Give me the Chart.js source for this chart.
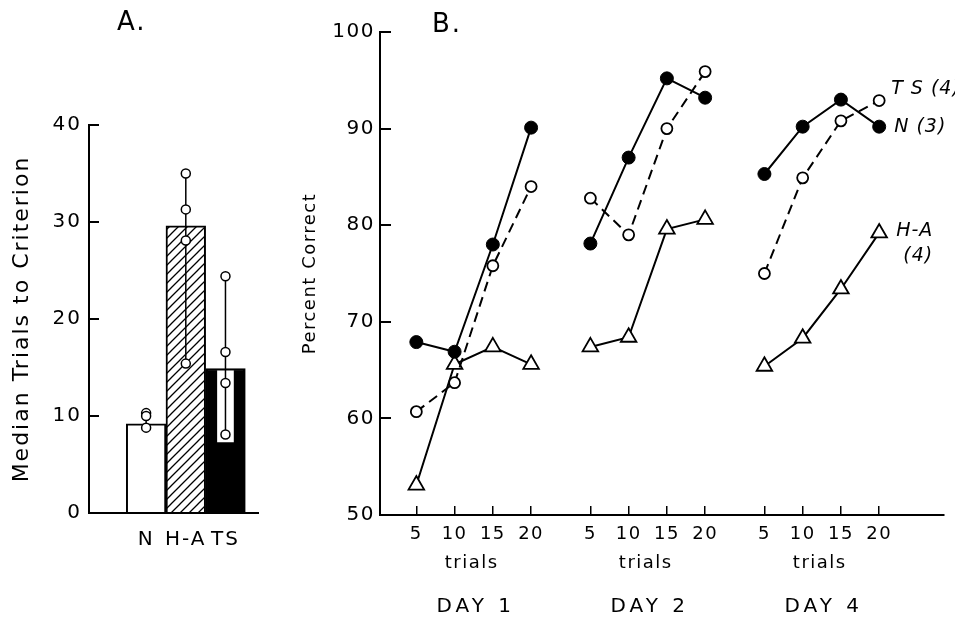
<!DOCTYPE html>
<html>
<head>
<meta charset="utf-8">
<script src="https://cdn.jsdelivr.net/npm/chart.js@4.4.1/dist/chart.umd.min.js"></script>
<style>
  html, body { margin: 0; padding: 0; background: #fff; }
  #marco { position: relative; width: 955px; height: 618px; overflow: hidden; }
  canvas { position: absolute; top: 0; }
  #panelA { left: 0; }
  #panelB { left: 280px; }
</style>
</head>
<body>
<div id="marco">
  <canvas id="panelA" width="280" height="618"></canvas>
  <canvas id="panelB" width="675" height="618"></canvas>
</div>
<script>
// A. trials to criterion
const grupos = ['N', 'H-A', 'TS']
const medianas = [9.2, 29.6, 14.9]
const individuales = [
  [10.3, 10.0, 8.8],
  [35.0, 31.3, 28.1, 15.4],
  [24.4, 16.6, 13.4, 8.1]
]
const recuadroTS = [7.3, 14.7]

// B. percent correct, one row per day
const ensayos = [5, 10, 15, 20]
const dias = ['DAY 1', 'DAY 2', 'DAY 4']
const serieN = [[67.9, 66.9, 78.0, 90.1], [78.1, 87.0, 95.2, 93.2], [85.3, 90.2, 93.0, 90.2]]
const serieTS = [[60.7, 63.7, 75.8, 84.0], [82.8, 79.0, 90.0, 95.9], [75.0, 84.9, 90.8, 92.9]]
const serieHA = [[53.1, 65.6, 67.4, 65.6], [67.4, 68.4, 79.6, 80.6], [65.4, 68.3, 73.4, 79.2]]
//
Chart.defaults.font.family = '"DejaVu Sans", sans-serif'
Chart.defaults.color = '#000'
Chart.defaults.animation = false

const gapDia = 0.55
function posicion (d, t) {
  return d * (ensayos.length + gapDia) + t
}

function puntos (valores) {
  let salida = []
  valores.forEach((dia, d) => {
    if (d > 0) salida.push({ x: posicion(d, 0) - 0.75, y: null })
    dia.forEach((v, t) => salida.push({ x: posicion(d, t), y: v }))
  })
  return salida
}

function rayado () {
  let c = document.createElement('canvas')
  c.width = 9
  c.height = 9
  let g = c.getContext('2d')
  g.fillStyle = '#fff'
  g.fillRect(0, 0, 9, 9)
  g.strokeStyle = '#000'
  g.lineWidth = 1.3
  g.beginPath()
  g.moveTo(0, 9); g.lineTo(9, 0)
  g.moveTo(-1, 1); g.lineTo(1, -1)
  g.moveTo(8, 10); g.lineTo(10, 8)
  g.stroke()
  return g.createPattern(c, 'repeat')
}

function espaciado (px) {
  return {
    id: 'espaciado',
    beforeDraw (chart) {
      chart.ctx.letterSpacing = px
    }
  }
}

const rotulosA = {
  id: 'rotulosA',
  afterDraw (chart) {
    let ctx = chart.ctx
    ctx.save()
    ctx.fillStyle = '#000'
    ctx.font = '26px "DejaVu Sans"'
    ctx.letterSpacing = '2px'
    ctx.textAlign = 'left'
    ctx.textBaseline = 'alphabetic'
    ctx.fillText('A.', chart.chartArea.left + 28, 30)
    ctx.restore()
  }
}

const rotulosB = {
  id: 'rotulosB',
  afterDraw (chart) {
    let ctx = chart.ctx
    let { left, bottom } = chart.chartArea
    let escala = chart.scales.x
    ctx.save()
    ctx.fillStyle = '#000'
    ctx.textAlign = 'left'
    ctx.textBaseline = 'alphabetic'
    ctx.font = '26px "DejaVu Sans"'
    ctx.letterSpacing = '2px'
    ctx.fillText('B.', left + 52, 32)
    //
    ctx.textAlign = 'center'
    ctx.textBaseline = 'middle'
    dias.forEach((dia, d) => {
      let medio = escala.getPixelForValue(posicion(d, (ensayos.length - 1) / 2))
      ctx.font = '18px "DejaVu Sans"'
      ctx.letterSpacing = '1.5px'
      ctx.fillText('trials', medio - 2, bottom + 48)
      ctx.font = '20px "DejaVu Sans"'
      ctx.letterSpacing = '4px'
      ctx.fillText(dia, medio + 2, bottom + 92)
    })
    // series names next to the last day
    ctx.textAlign = 'left'
    ctx.font = 'italic 19px "DejaVu Sans"'
    ctx.letterSpacing = '1px'
    let nombres = [
      { serie: 0, textos: ['N (3)'], dx: 15, dy: 0 },
      { serie: 1, textos: ['T S (4)'], dx: 12, dy: -12 },
      { serie: 2, textos: ['H-A', ' (4)'], dx: 17, dy: -2 }
    ]
    nombres.forEach(n => {
      let meta = chart.getDatasetMeta(n.serie)
      let ultimo = meta.data[meta.data.length - 1]
      n.textos.forEach((t, i) => ctx.fillText(t, ultimo.x + n.dx, ultimo.y + n.dy + i * 25))
    })
    ctx.restore()
  }
}

const ejeNegro = {
  border: { display: true, color: '#000', width: 2 },
  grid: { drawOnChartArea: false, color: '#000', lineWidth: 2 }
}

new Chart(document.getElementById('panelA'), {
  type: 'bar',
  data: {
    datasets: [
      ...individuales.map((valores, i) => ({
        type: 'line',
        data: valores.map(v => ({ x: i, y: v })),
        order: 0,
        borderColor: '#000',
        borderWidth: 1.5,
        pointRadius: 4.5,
        pointBackgroundColor: '#fff',
        pointBorderColor: '#000',
        pointBorderWidth: 1.5
      })),
      {
        data: [{ x: 2, y: recuadroTS }],
        order: 1,
        grouped: false,
        barPercentage: 0.42,
        categoryPercentage: 1,
        backgroundColor: '#fff',
        borderWidth: 0
      },
      {
        data: medianas.map((v, i) => ({ x: i, y: v })),
        order: 2,
        grouped: false,
        barPercentage: 1,
        categoryPercentage: 1,
        backgroundColor: ['#fff', rayado(), '#000'],
        borderColor: '#000',
        borderWidth: 2
      }
    ]
  },
  options: {
    responsive: false,
    layout: { padding: { top: 125, right: 22, left: 0, bottom: 0 } },
    plugins: { legend: { display: false }, tooltip: { enabled: false } },
    scales: {
      x: {
        type: 'linear',
        min: -1.44,
        max: 2.82,
        offset: false,
        border: { display: true, color: '#000', width: 2 },
        grid: { display: false, offset: false },
        afterBuildTicks: escala => { escala.ticks = grupos.map((g, i) => ({ value: i })) },
        afterFit: escala => { escala.height = 105 },
        ticks: {
          padding: 7,
          maxRotation: 0,
          autoSkip: false,
          font: { size: 20 },
          callback: (valor, i) => grupos[i]
        }
      },
      y: {
        min: 0,
        max: 40,
        ...ejeNegro,
        grid: { ...ejeNegro.grid, tickLength: -10 },
        afterFit: escala => { escala.width = 89 },
        ticks: { stepSize: 10, padding: 17, font: { size: 20 } },
        title: {
          display: true,
          text: 'Median Trials to Criterion',
          font: { size: 22 },
          padding: { top: 9, bottom: 0 }
        }
      }
    }
  },
  plugins: [espaciado('2px'), rotulosA]
})

const posiciones = dias.flatMap((d, i) => ensayos.map((e, t) => posicion(i, t)))

new Chart(document.getElementById('panelB'), {
  type: 'line',
  data: {
    datasets: [
      {
        label: 'N (3)',
        data: puntos(serieN),
        borderColor: '#000',
        borderWidth: 2,
        pointStyle: 'circle',
        pointRadius: 6.5,
        pointBackgroundColor: '#000',
        pointBorderColor: '#000',
        pointBorderWidth: 1
      },
      {
        label: 'TS (4)',
        data: puntos(serieTS),
        borderColor: '#000',
        borderWidth: 2,
        borderDash: [10, 6],
        pointStyle: 'circle',
        pointRadius: 5.5,
        pointBackgroundColor: '#fff',
        pointBorderColor: '#000',
        pointBorderWidth: 1.8
      },
      {
        label: 'H-A (4)',
        data: puntos(serieHA),
        borderColor: '#000',
        borderWidth: 2,
        pointStyle: 'triangle',
        pointRadius: 9,
        pointBackgroundColor: '#fff',
        pointBorderColor: '#000',
        pointBorderWidth: 1.8
      }
    ]
  },
  options: {
    responsive: false,
    layout: { padding: { top: 32, right: 5, left: 0, bottom: 0 } },
    plugins: { legend: { display: false }, tooltip: { enabled: false } },
    scales: {
      x: {
        type: 'linear',
        min: -0.95,
        max: 13.8,
        ...ejeNegro,
        grid: { ...ejeNegro.grid, lineWidth: 1.5, tickLength: -9 },
        afterBuildTicks: escala => { escala.ticks = posiciones.map(v => ({ value: v })) },
        afterFit: escala => { escala.height = 103 },
        ticks: {
          padding: 18,
          maxRotation: 0,
          autoSkip: false,
          font: { size: 18 },
          callback: (valor, i) => ensayos[i % ensayos.length]
        }
      },
      y: {
        min: 50,
        max: 100,
        ...ejeNegro,
        grid: { ...ejeNegro.grid, tickLength: -11 },
        afterFit: escala => { escala.width = 100 },
        ticks: { stepSize: 10, padding: 16, font: { size: 20 } },
        title: {
          display: true,
          text: 'Percent Correct',
          font: { size: 18 },
          padding: { top: 20, bottom: 0 }
        }
      }
    }
  },
  plugins: [espaciado('1.5px'), rotulosB]
})
</script>
</body>
</html>
